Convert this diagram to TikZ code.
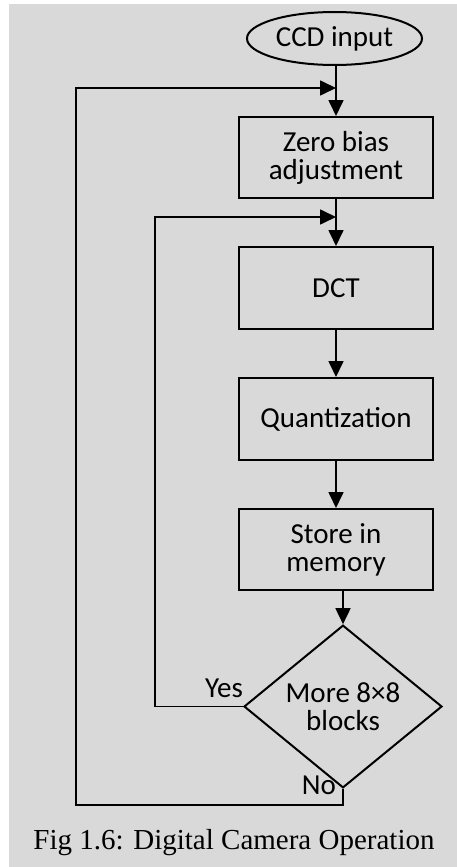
\documentclass[tikz,border=0pt]{standalone}
\usepackage{fontspec}
\setmainfont{Carlito}
\newfontfamily\capfont{Liberation Serif}
\usepackage{tikz}
\usetikzlibrary{arrows.meta, shapes.geometric, positioning}
\definecolor{pagegray}{HTML}{D9D9D9}

\begin{document}
\begin{tikzpicture}[
  x=1pt, y=-1pt,
  >={Triangle[length=16pt, width=15pt]},
  pbox/.style={rectangle, draw=black, line width=2pt, minimum width=194pt,
    minimum height=81pt, inner sep=0pt, align=center,
    font=\fontsize{29}{28}\selectfont},
  tnode/.style={ellipse, draw=black, line width=2pt, minimum width=175pt,
    minimum height=53pt, inner sep=0pt, font=\fontsize{29}{28}\selectfont},
  dnode/.style={diamond, draw=black, line width=2pt, minimum width=198pt,
    minimum height=133pt, inner sep=0pt, align=center,
    font=\fontsize{29}{28}\selectfont},
  lbl/.style={font=\fontsize{29}{28}\selectfont},
  arr/.style={->, line width=1.7pt}
]

% ---- Page ----
\useasboundingbox (0,0) rectangle (457,867);
\fill[pagegray] (9,4) rectangle (457,867);

% ---- Flow blocks ----
\node[tnode] (ccd) at (334.5,38.5) {CCD input};
\node[pbox] (zero) at (336,157.5) {Zero bias\\adjustment};
\node[pbox, minimum height=82pt] (dct) at (336,288) {DCT};
\node[pbox, minimum height=82pt] (quant) at (336,419) {Quantization};
\node[pbox] (store) at (336,549.5) {Store in\\memory};
\node[dnode] (more) at (343,706.5) {More 8×8\\blocks};

% ---- Junctions and loop corners ----
\coordinate (jtop) at (336,88);
\coordinate (jmid) at (336,217);
\coordinate (nocorner) at (76,805);
\coordinate (yescorner) at (155,217);

% ---- Main flow ----
\draw[arr] (ccd.south -| zero.north) -- (zero.north);
\draw[arr] (zero.south) -- (dct.north);
\draw[arr] (dct.south) -- (quant.north);
\draw[arr] (quant.south) -- (store.north);
\draw[arr] (more.north |- store.south) -- (more.north);

% ---- Loops ----
\draw[arr] (more.west) -| (yescorner) -- (jmid);
\node[lbl] (yes) at (224,688) {Yes};
\draw[arr] (more.south) |- (nocorner) |- (jtop);
\node[lbl] (no) at (319,785) {No};

% ---- Caption ----
\node[font=\capfont\fontsize{29}{33}\selectfont] (cap) at (234,843)
  {Fig 1.6: Digital Camera Operation};

\end{tikzpicture}
\end{document}
